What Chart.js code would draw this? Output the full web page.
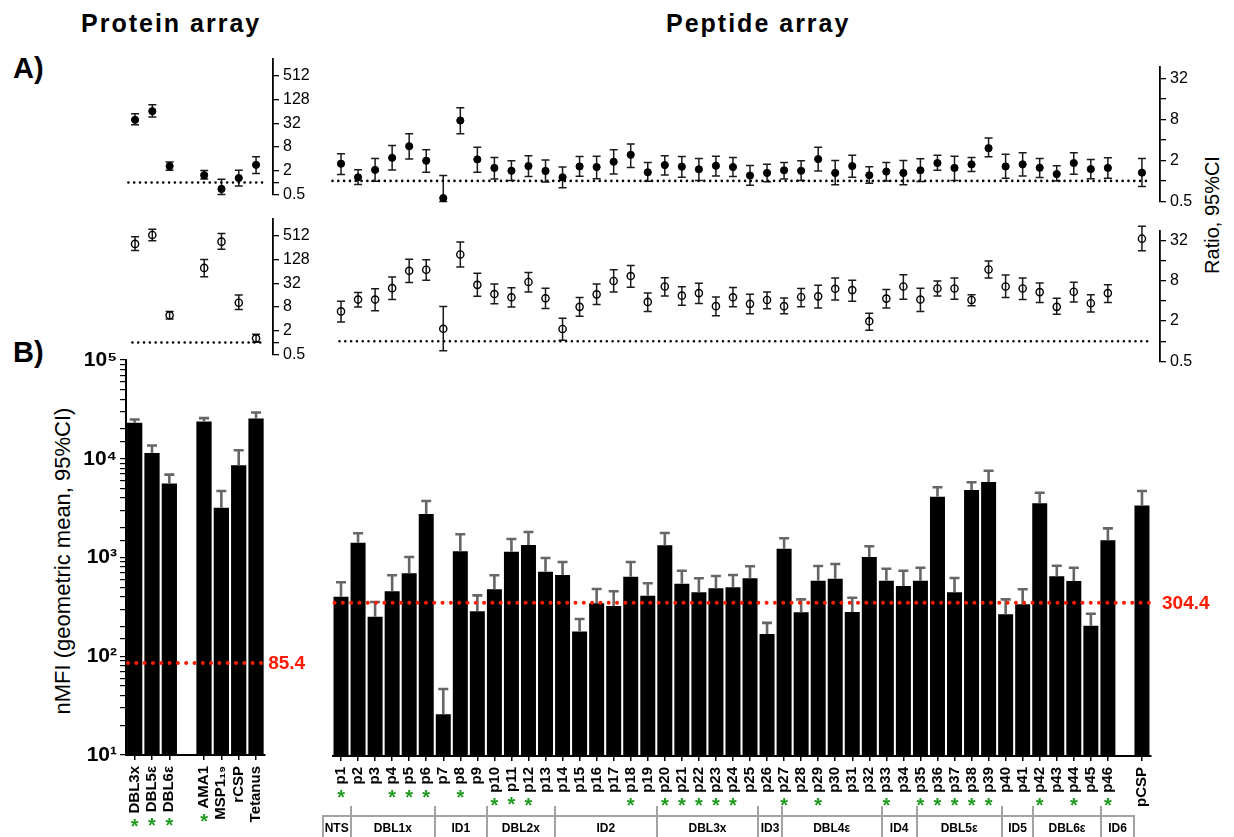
<!DOCTYPE html>
<html>
<head>
<meta charset="utf-8">
<title>Protein and peptide array</title>
<script src="https://cdn.jsdelivr.net/npm/chart.js@4.4.1/dist/chart.umd.min.js"></script>
<style>
  html, body { margin: 0; padding: 0; background: #fff; }
  body { position: relative; width: 1234px; height: 837px; overflow: hidden;
         font-family: "Liberation Sans", Arial, sans-serif; color: #000; }
  canvas { position: absolute; }
  .txt { position: absolute; white-space: nowrap; line-height: 1; }
  .rot { position: absolute; white-space: nowrap; line-height: 1; transform: translate(-50%, -50%) rotate(-90deg); }
  #domains div { position: absolute; }
</style>
</head>
<body>
<div class="txt" style="left:81px; top:11px; font-size:25px; font-weight:bold; letter-spacing:2px;">Protein array</div>
<div class="txt" style="left:666px; top:11px; font-size:25px; font-weight:bold; letter-spacing:2px;">Peptide array</div>
<div class="txt" style="left:13px; top:54px; font-size:29px; font-weight:bold;">A)</div>
<div class="txt" style="left:13px; top:338px; font-size:29px; font-weight:bold;">B)</div>
<div class="rot" style="left:1212px; top:215px; font-size:20px;">Ratio, 95%CI</div>
<div class="rot" style="left:63px; top:561px; font-size:22px;">nMFI (geometric mean, 95%CI)</div>

<canvas id="protTop" width="230" height="163" style="left:100px; top:45px;"></canvas>
<canvas id="protBottom" width="230" height="163" style="left:100px; top:205px;"></canvas>
<canvas id="pepTop" width="914" height="170" style="left:320px; top:45px;"></canvas>
<canvas id="pepBottom" width="914" height="160" style="left:320px; top:215px;"></canvas>
<canvas id="protBars" width="320" height="497" style="left:0px; top:340px;"></canvas>
<canvas id="pepBars" width="914" height="497" style="left:320px; top:340px;"></canvas>
<div id="domains"></div>

<script>
// ---------- data ----------
const proteinLabels = ['DBL3x', 'DBL5ε', 'DBL6ε', '', 'AMA1', 'MSP1₁₉', 'rCSP', 'Tetanus'];
const proteinStarred = ['DBL3x', 'DBL5ε', 'DBL6ε', 'AMA1'];
const proteinMFI      = [23100, 11450, 5600, null, 23900, 3190, 8600, 25600];
const proteinMFIUpper = [25000, 13600, 6900, null, 25800, 4710, 12200, 29400];
const proteinCutoff = 85.4;

// panel A, protein array (filled = top row, open = bottom row)
const protRatioTop   = [39.2, 65, 2.62, null, 1.54, 0.69, 1.30, 2.82];
const protRatioTopLo = [29.6, 46.5, 2.05, null, 1.23, 0.50, 0.82, 1.70];
const protRatioTopHi = [55.9, 94.4, 3.34, null, 2.01, 1.21, 2.05, 4.50];
const protRatioBot   = [321, 542, 4.93, null, 78.9, 366, 10.3, 1.28];
const protRatioBotLo = [217, 388, 3.94, null, 46.8, 234, 6.92, 1.02];
const protRatioBotHi = [484, 760, 6.18, null, 129, 587, 16.1, 1.63];

const peptideLabels = ['p1', 'p2', 'p3', 'p4', 'p5', 'p6', 'p7', 'p8', 'p9', 'p10',
  'p11', 'p12', 'p13', 'p14', 'p15', 'p16', 'p17', 'p18', 'p19', 'p20',
  'p21', 'p22', 'p23', 'p24', 'p25', 'p26', 'p27', 'p28', 'p29', 'p30',
  'p31', 'p32', 'p33', 'p34', 'p35', 'p36', 'p37', 'p38', 'p39', 'p40',
  'p41', 'p42', 'p43', 'p44', 'p45', 'p46', '', 'pCSP'];
const peptideStarred = ['p1', 'p4', 'p5', 'p6', 'p8', 'p10', 'p11', 'p12', 'p18', 'p20',
  'p21', 'p22', 'p23', 'p24', 'p27', 'p29', 'p33', 'p35', 'p36', 'p37', 'p38', 'p39',
  'p42', 'p44', 'p46'];
const peptideMFI = [350, 1236, 219, 397, 604, 2417, 22.4, 1012, 249, 416,
  1002, 1172, 628, 581, 155, 300, 281, 558, 358, 1164,
  474, 388, 426, 436, 538, 146, 1075, 243, 508, 533,
  245, 885, 508, 450, 508, 3624, 388, 4240, 5110, 232,
  293, 3105, 564, 505, 177, 1309, null, 2958];
const peptideMFIUpper = [490, 1541, 309, 577, 885, 3273, 40.4, 1504, 361, 577,
  1349, 1588, 865, 787, 208, 419, 397, 787, 479, 1552,
  643, 538, 568, 581, 713, 190, 1371, 329, 718, 752,
  342, 1137, 673, 643, 689, 4518, 542, 5075, 6650, 329,
  416, 3981, 722, 689, 235, 1730, null, 4140];
const peptideCutoff = 304.4;

const pepRatioTop = [1.79, 1.13, 1.45, 2.18, 3.23, 1.98, 0.56, 7.71, 2.07, 1.55,
  1.41, 1.65, 1.40, 1.13, 1.63, 1.60, 1.91, 2.42, 1.34, 1.71,
  1.62, 1.48, 1.67, 1.60, 1.20, 1.31, 1.43, 1.41, 2.09, 1.31,
  1.65, 1.21, 1.37, 1.31, 1.43, 1.83, 1.55, 1.75, 3.02, 1.63,
  1.75, 1.56, 1.26, 1.83, 1.49, 1.55, null, 1.32];
const pepRatioTopLo = [1.24, 0.885, 0.99, 1.45, 2.09, 1.34, 0.50, 4.94, 1.34, 1.07,
  1.01, 1.16, 0.96, 0.79, 1.17, 1.08, 1.26, 1.58, 0.99, 1.22,
  1.13, 1.01, 1.18, 1.16, 0.865, 0.97, 1.07, 1.01, 1.40, 0.875,
  1.13, 0.925, 1.0, 0.875, 0.98, 1.43, 1.01, 1.37, 2.26, 1.09,
  1.18, 1.12, 1.0, 1.25, 1.08, 1.09, null, 0.83];
const pepRatioTopHi = [2.50, 1.46, 2.14, 3.30, 4.94, 2.86, 1.20, 11.9, 3.12, 2.21,
  1.98, 2.34, 2.02, 1.60, 2.29, 2.31, 2.86, 3.49, 1.87, 2.34,
  2.29, 2.14, 2.31, 2.21, 1.69, 1.75, 1.87, 1.98, 3.12, 2.00,
  2.39, 1.62, 1.87, 2.00, 2.11, 2.39, 2.31, 2.21, 4.27, 2.47,
  2.58, 2.14, 1.67, 2.58, 2.07, 2.18, null, 2.14];
const pepRatioBot = [2.78, 4.17, 4.17, 6.17, 11.2, 11.6, 1.53, 19.6, 6.91, 5.04,
  4.51, 7.64, 4.36, 1.52, 3.25, 4.99, 7.90, 9.35, 3.85, 6.53,
  4.77, 5.21, 3.33, 4.51, 3.60, 4.12, 3.33, 4.56, 4.66, 6.04,
  5.77, 1.98, 4.31, 6.53, 4.17, 6.10, 6.10, 4.12, 11.7, 6.53,
  6.10, 5.39, 3.25, 5.45, 3.68, 5.21, null, 33.7];
const pepRatioBotLo = [1.94, 3.22, 2.84, 4.17, 7.47, 8.08, 0.72, 12.8, 4.66, 3.60,
  3.22, 5.39, 3.07, 1.03, 2.35, 3.52, 5.39, 6.38, 2.78, 4.71,
  3.44, 3.64, 2.40, 3.25, 2.57, 3.04, 2.57, 3.25, 3.11, 4.12,
  3.94, 1.45, 3.11, 4.21, 2.78, 4.71, 4.21, 3.36, 8.74, 4.46,
  4.17, 3.76, 2.51, 3.85, 2.72, 3.76, null, 22.2];
const pepRatioBotHi = [3.94, 5.33, 6.04, 9.04, 16.6, 16.4, 3.29, 30.1, 10.3, 7.14,
  6.24, 10.6, 6.17, 2.20, 4.46, 7.14, 11.6, 13.4, 5.21, 8.84,
  6.46, 7.30, 4.56, 6.31, 4.99, 5.39, 4.40, 6.10, 6.83, 8.74,
  8.08, 2.60, 5.90, 9.78, 6.17, 7.90, 8.74, 4.93, 15.7, 9.67,
  8.74, 7.39, 4.36, 7.55, 4.93, 6.91, null, 51.6];

const protRatioTicks = [0.5, 1, 2, 8, 32, 128, 512];
const protRatioTickLabels = [0.5, 2, 8, 32, 128, 512];
const pepRatioTicks = [0.5, 1, 2, 4, 8, 16, 32];
const pepRatioTickLabels = [0.5, 2, 8, 32];

const domainNames = ['NTS', 'DBL1x', 'ID1', 'DBL2x', 'ID2', 'DBL3x', 'ID3', 'DBL4ε', 'ID4', 'DBL5ε', 'ID5', 'DBL6ε', 'ID6'];
// pixel edges of the domain boxes under the peptide axis (layout only)
const domainEdges = [322.7, 350.7, 435, 486.7, 555, 656.7, 758.3, 781.7, 881.7, 916.7, 1001.7, 1033.3, 1100.7, 1134.3];

// ---------- setup ----------
const FONT = '"Liberation Sans", Arial, sans-serif';
Chart.defaults.font.family = FONT;
Chart.defaults.color = '#000';
const SUP = { '1': '¹', '2': '²', '3': '³', '4': '⁴', '5': '⁵' };

function drawErr(chart, o) {
  const { ctx, scales: { x, y } } = chart;
  ctx.save();
  ctx.strokeStyle = o.color;
  ctx.lineWidth = o.width;
  o.hi.forEach((h, i) => {
    if (h == null) return;
    const px = x.getPixelForValue(i);
    const yHi = y.getPixelForValue(h);
    const yLo = y.getPixelForValue(o.lo ? o.lo[i] : o.vals[i]);
    ctx.beginPath();
    ctx.moveTo(px, yLo);
    ctx.lineTo(px, yHi);
    ctx.moveTo(px - o.cap, yHi);
    ctx.lineTo(px + o.cap, yHi);
    if (o.lo) {
      ctx.moveTo(px - o.cap, yLo);
      ctx.lineTo(px + o.cap, yLo);
    }
    ctx.stroke();
  });
  ctx.restore();
}

const errBars = {
  id: 'errBars',
  beforeDatasetsDraw(chart, args, o) { if (!o.onTop) drawErr(chart, o); },
  afterDatasetsDraw(chart, args, o) { if (o.onTop) drawErr(chart, o); }
};

function drawRef(chart, o) {
  const { ctx, chartArea: a, scales: { y } } = chart;
  const py = y.getPixelForValue(o.value);
  ctx.save();
  ctx.strokeStyle = o.color;
  ctx.lineWidth = o.width;
  ctx.lineCap = 'round';
  ctx.setLineDash([0.01, o.gap]);
  ctx.beginPath();
  ctx.moveTo(a.left + o.from, py);
  ctx.lineTo(a.right + o.to, py);
  ctx.stroke();
  if (o.label) {
    ctx.setLineDash([]);
    ctx.fillStyle = o.color;
    ctx.font = 'bold 19px ' + FONT;
    ctx.textBaseline = 'middle';
    ctx.fillText(o.label, a.right + o.labelDx, py + 1);
  }
  ctx.restore();
}

const refLine = {
  id: 'refLine',
  beforeDatasetsDraw(chart, args, o) { if (!o.onTop) drawRef(chart, o); },
  afterDatasetsDraw(chart, args, o) { if (o.onTop) drawRef(chart, o); }
};

// green asterisks under the significant labels
const stars = {
  id: 'stars',
  afterDraw(chart, args, o) {
    const { ctx, scales: { x } } = chart;
    ctx.save();
    ctx.font = 'bold 15px ' + FONT;
    const widths = o.labels.map(l => ctx.measureText(l).width);
    ctx.font = 'bold 20px ' + FONT;
    ctx.fillStyle = '#1e9a1e';
    ctx.textAlign = 'center';
    ctx.textBaseline = 'alphabetic';
    o.labels.forEach((l, i) => {
      if (!o.starred.includes(l)) return;
      const cy = x.top + o.start + widths[i] + 8;
      ctx.fillText('*', x.getPixelForValue(i), cy + 11.4);
    });
    ctx.restore();
  }
};

function dotChart(id, vals, lo, hi, opt) {
  return new Chart(document.getElementById(id), {
    type: 'scatter',
    data: {
      datasets: [{
        data: vals.map((v, i) => ({ x: i, y: v })),
        pointRadius: 3.6,
        pointBorderWidth: opt.filled ? 1 : 1.4,
        pointBackgroundColor: opt.filled ? '#000' : 'rgba(0,0,0,0)',
        pointBorderColor: '#000',
        clip: false
      }]
    },
    options: {
      responsive: false,
      animation: false,
      layout: { padding: opt.padding },
      plugins: {
        legend: { display: false },
        tooltip: { enabled: false },
        errBars: { lo: lo, hi: hi, color: '#1a1a1a', width: 1.5, cap: 4, onTop: false },
        refLine: { value: 1, color: '#000', width: 2.6, gap: 5.8, from: opt.lineFrom, to: opt.lineTo, onTop: false }
      },
      scales: {
        x: { type: 'linear', display: false, bounds: 'data', min: -0.5, max: opt.xMax },
        y: {
          type: 'logarithmic', position: 'right', bounds: 'data',
          min: 0.5, max: opt.yMax,
          afterBuildTicks: ax => { ax.ticks = opt.ticks.map(v => ({ value: v })); },
          afterFit: ax => { ax.width = opt.axisW; },
          border: { color: '#000', width: 1.8 },
          grid: { drawOnChartArea: false, tickLength: 6, color: '#000', lineWidth: 1.3 },
          ticks: {
            autoSkip: false, padding: 4, color: '#000', font: { size: 16 },
            callback: v => opt.tickLabels.includes(v) ? String(v) : ''
          }
        }
      }
    },
    plugins: [errBars, refLine]
  });
}

function barChart(id, labels, vals, upper, opt) {
  return new Chart(document.getElementById(id), {
    type: 'bar',
    data: {
      labels: labels,
      datasets: [{ data: vals, backgroundColor: '#000', borderWidth: 0, barPercentage: 0.88, categoryPercentage: 1 }]
    },
    options: {
      responsive: false,
      animation: false,
      layout: { padding: opt.padding },
      plugins: {
        legend: { display: false },
        tooltip: { enabled: false },
        errBars: { vals: vals, hi: upper, color: '#666', width: 2.6, cap: 5, onTop: true },
        refLine: { value: opt.cutoff, color: '#ff1a00', width: 4, gap: 8.3, from: 2, to: opt.lineTo,
                   label: String(opt.cutoff), labelDx: opt.labelDx, onTop: true },
        stars: { labels: labels, starred: opt.starred, start: 11 }
      },
      scales: {
        x: {
          offset: true,
          border: { color: '#000', width: 2 },
          grid: {
            offset: false, drawOnChartArea: false, tickLength: 5, lineWidth: 1.5,
            tickColor: c => labels[c.index] ? '#000' : 'rgba(0,0,0,0)'
          },
          ticks: { autoSkip: false, minRotation: 90, maxRotation: 90, padding: 6, color: '#000',
                   font: { size: 15, weight: 'bold' } },
          afterFit: ax => { ax.height = opt.axisH; }
        },
        y: {
          type: 'logarithmic', display: opt.showY, bounds: 'data',
          min: opt.yMin, max: opt.yMax,
          afterFit: ax => { if (opt.showY) ax.width = 126; },
          border: { color: '#000', width: 2 },
          grid: { drawOnChartArea: false, tickLength: 6, color: '#000', lineWidth: 1.2 },
          ticks: {
            autoSkip: false, padding: 3, color: '#000', font: { size: 21, weight: 'bold' },
            callback: v => {
              const e = Math.log10(v);
              return Math.abs(e - Math.round(e)) < 1e-6 ? '10' + SUP[String(Math.round(e))] : '';
            }
          }
        }
      }
    },
    plugins: [errBars, refLine, stars]
  });
}

// ---------- panel A ----------
dotChart('protTop', protRatioTop, protRatioTopLo, protRatioTopHi, {
  filled: true, padding: { left: 26.4, right: 0, top: 10, bottom: 12 }, axisW: 57,
  xMax: 7.98, yMax: 1409, ticks: protRatioTicks, tickLabels: protRatioTickLabels, lineFrom: 2, lineTo: -7
});
dotChart('protBottom', protRatioBot, protRatioBotLo, protRatioBotHi, {
  filled: false, padding: { left: 26.4, right: 0, top: 10, bottom: 12 }, axisW: 57,
  xMax: 7.98, yMax: 1409, ticks: protRatioTicks, tickLabels: protRatioTickLabels, lineFrom: 6, lineTo: -12
});
dotChart('pepTop', pepRatioTop, pepRatioTopLo, pepRatioTopHi, {
  filled: true, padding: { left: 12.5, right: 0, top: 22.3, bottom: 12.3 }, axisW: 74,
  xMax: 48.06, yMax: 46.6, ticks: pepRatioTicks, tickLabels: pepRatioTickLabels, lineFrom: 0, lineTo: -10
});
dotChart('pepBottom', pepRatioBot, pepRatioBotLo, pepRatioBotHi, {
  filled: false, padding: { left: 12.5, right: 0, top: 15.5, bottom: 11 }, axisW: 74,
  xMax: 48.06, yMax: 44.6, ticks: pepRatioTicks, tickLabels: pepRatioTickLabels, lineFrom: 7, lineTo: -10
});

// ---------- panel B ----------
barChart('protBars', proteinLabels, proteinMFI, proteinMFIUpper, {
  padding: { left: 0, right: 55.3, top: 20, bottom: 0 }, axisH: 82, showY: true,
  yMin: 10, yMax: 100000, cutoff: proteinCutoff, lineTo: -2, labelDx: 3.5, starred: proteinStarred
});
barChart('pepBars', peptideLabels, peptideMFI, peptideMFIUpper, {
  padding: { left: 12.5, right: 83.5, top: 20, bottom: 0 }, axisH: 81, showY: false,
  yMin: 8.45, yMax: 88500, cutoff: peptideCutoff, lineTo: 4.5, labelDx: 11.5, starred: peptideStarred
});

// ---------- domain boxes ----------
const dom = document.getElementById('domains');
const grey = '#a3a3a3';
function addDiv(css, text) {
  const d = document.createElement('div');
  d.style.cssText = css;
  if (text) d.textContent = text;
  dom.appendChild(d);
}
const first = domainEdges[0], last = domainEdges[domainEdges.length - 1];
addDiv(`left:${first}px;top:815px;width:${last - first}px;height:2px;background:${grey};`);
domainEdges.forEach((e, i) => {
  const inner = i > 0 && i < domainEdges.length - 1;
  const top = inner ? 806 : 815;
  addDiv(`left:${e - 1}px;top:${top}px;width:2px;height:${840 - top}px;background:${grey};`);
});
domainNames.forEach((n, i) => {
  const l = domainEdges[i], r = domainEdges[i + 1];
  addDiv(`left:${l}px;top:817px;width:${r - l}px;height:22px;line-height:22px;text-align:center;` +
         `font-size:12px;font-weight:bold;white-space:nowrap;`, n);
});
</script>
</body>
</html>
